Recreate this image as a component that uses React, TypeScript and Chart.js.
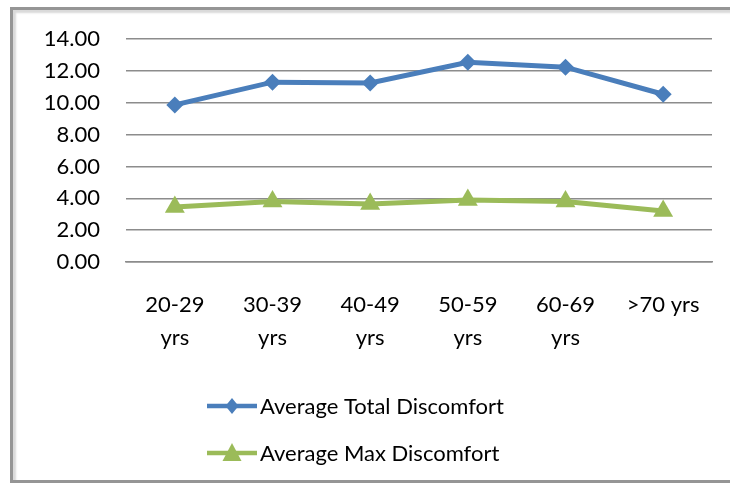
import React, { useEffect, useRef } from 'react';
import { Chart, registerables } from 'chart.js';

Chart.register(...registerables);

const categories: (string | string[])[] = [
  ['20-29', 'yrs'],
  ['30-39', 'yrs'],
  ['40-49', 'yrs'],
  ['50-59', 'yrs'],
  ['60-69', 'yrs'],
  '>70 yrs',
];
const seriesNames = ['Average Total Discomfort', 'Average Max Discomfort'];
const totalDiscomfort = [9.87, 11.3, 11.25, 12.55, 12.24, 10.54];
const maxDiscomfort = [3.45, 3.8, 3.65, 3.9, 3.8, 3.2];
const yMin = 0;
const yMax = 14;
const yStep = 2;

const FONT = "Lato, 'Open Sans', sans-serif";
const FONT_SIZE = 22;

const legendPlugin = {
  id: 'stackedLegend',
  afterDraw(chart: any) {
    const ctx = chart.ctx as CanvasRenderingContext2D;
    const rows = [406, 453];
    chart.data.datasets.forEach((ds: any, i: number) => {
      const y = rows[i];
      const x0 = 207;
      const x1 = 257;
      const cx = (x0 + x1) / 2;
      ctx.save();
      ctx.strokeStyle = ds.borderColor;
      ctx.lineWidth = 4.5;
      ctx.beginPath();
      ctx.moveTo(x0, y);
      ctx.lineTo(x1, y);
      ctx.stroke();
      ctx.fillStyle = ds.backgroundColor;
      ctx.beginPath();
      if (ds.pointStyle === 'rectRot') {
        ctx.moveTo(cx, y - 8);
        ctx.lineTo(cx + 6.5, y);
        ctx.lineTo(cx, y + 8);
        ctx.lineTo(cx - 6.5, y);
      } else {
        ctx.moveTo(cx, y - 10);
        ctx.lineTo(cx + 9.5, y + 8);
        ctx.lineTo(cx - 9.5, y + 8);
      }
      ctx.closePath();
      ctx.fill();
      ctx.fillStyle = '#000';
      ctx.font = `${FONT_SIZE}px ${FONT}`;
      ctx.textAlign = 'left';
      ctx.textBaseline = 'middle';
      ctx.fillText(ds.label, 260, y + 1);
      ctx.restore();
    });
  },
};

export default function App() {
  const ref = useRef<HTMLCanvasElement | null>(null);

  useEffect(() => {
    if (!ref.current) return;
    const chart = new Chart(ref.current, {
      type: 'line',
      data: {
        labels: categories,
        datasets: [
          {
            label: seriesNames[0],
            data: totalDiscomfort,
            borderColor: '#4a7ebb',
            backgroundColor: '#4a7ebb',
            borderWidth: 5,
            pointStyle: 'rectRot',
            pointRadius: 8.5,
            pointBorderWidth: 0,
            tension: 0,
          },
          {
            label: seriesNames[1],
            data: maxDiscomfort,
            borderColor: '#9bbb59',
            backgroundColor: '#9bbb59',
            borderWidth: 5,
            pointStyle: 'triangle',
            pointRadius: 11.5,
            pointBorderWidth: 0,
            tension: 0,
          },
        ],
      },
      options: {
        responsive: false,
        animation: false,
        devicePixelRatio: 1,
        layout: { padding: { top: 38, right: 18, bottom: 0, left: 0 } },
        plugins: {
          legend: { display: false },
          tooltip: { enabled: false },
        },
        scales: {
          x: {
            offset: true,
            grid: { display: false, drawTicks: false },
            border: { display: true, color: '#8c8c8c', width: 1.5 },
            ticks: {
              padding: 26,
              color: '#000',
              maxRotation: 0,
              autoSkip: false,
              font: { family: FONT, size: FONT_SIZE, lineHeight: 1.5 },
            },
            afterFit: (scale: any) => {
              scale.height = 221;
            },
          },
          y: {
            min: yMin,
            max: yMax,
            grid: { color: '#8c8c8c', lineWidth: 1.5, drawTicks: false },
            border: { display: false },
            ticks: {
              stepSize: yStep,
              autoSkip: false,
              padding: 26,
              color: '#000',
              font: { family: FONT, size: FONT_SIZE, lineHeight: 1.2 },
              callback: (v: any) => Number(v).toFixed(2),
            },
            afterFit: (scale: any) => {
              scale.width = 126;
            },
          },
        },
      },
      plugins: [legendPlugin],
    });
    return () => chart.destroy();
  }, []);

  return (
    <div style={{ position: 'fixed', left: 0, top: 0, width: 730, height: 483, background: '#fff', overflow: 'hidden' }}>
      <canvas ref={ref} width={730} height={483} style={{ position: 'absolute', left: 0, top: 0 }} />
      <div
        style={{
          position: 'absolute',
          left: 10,
          top: 7,
          width: 800,
          height: 476,
          boxSizing: 'border-box',
          border: '3px solid #959595',
          boxShadow: 'inset 3px 3px 2px #dadada',
          pointerEvents: 'none',
        }}
      />
    </div>
  );
}
